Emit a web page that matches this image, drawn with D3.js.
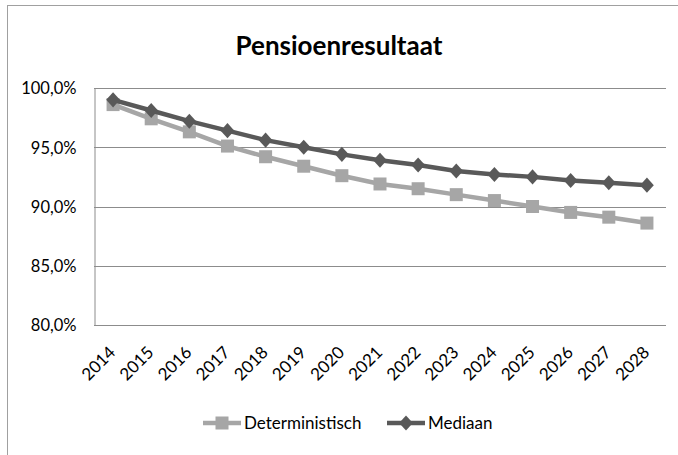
<!DOCTYPE html>
<html>
<head>
<meta charset="utf-8">
<script src="https://cdn.jsdelivr.net/npm/d3@7"></script>
<style>
  body { margin: 0; background: #fff; }
  text { font-family: Lato, "Open Sans", sans-serif; fill: #000; }
</style>
</head>
<body>
<div id="chart"></div>
<script>
var years = ["2014","2015","2016","2017","2018","2019","2020","2021","2022","2023","2024","2025","2026","2027","2028"];
var deterministisch = [98.6, 97.4, 96.3, 95.1, 94.2, 93.4, 92.6, 91.9, 91.5, 91.0, 90.5, 90.0, 89.5, 89.1, 88.6];
var mediaan = [99.0, 98.1, 97.2, 96.4, 95.6, 95.0, 94.4, 93.9, 93.5, 93.0, 92.7, 92.5, 92.2, 92.0, 91.8];
var yTicks = [80, 85, 90, 95, 100];

var w = 678;
var h = 455;
var margin = {top: 88, left: 94, right: 12, bottom: 130};

var svg = d3.select("#chart").append("svg")
    .attr("width", w)
    .attr("height", h);

// outer chart frame (cut off on the right and bottom)
svg.append("rect")
    .attr("x", 7.5)
    .attr("y", 5.5)
    .attr("width", 720)
    .attr("height", 520)
    .attr("fill", "none")
    .attr("stroke", "#a0a0a0");

var x = d3.scalePoint()
    .domain(years)
    .range([margin.left, w - margin.right])
    .padding(0.5);

var y = d3.scaleLinear()
    .domain([80, 100])
    .range([h - margin.bottom, margin.top]);

// title
svg.append("text")
    .attr("x", 339)
    .attr("y", 55)
    .attr("text-anchor", "middle")
    .style("font-size", "26px")
    .style("font-weight", "bold")
    .text("Pensioenresultaat");

// gridlines
svg.append("g")
    .selectAll("line")
    .data(yTicks)
    .enter()
    .append("line")
    .attr("x1", margin.left)
    .attr("x2", w - margin.right)
    .attr("y1", function(d){ return Math.round(y(d)) + 0.5; })
    .attr("y2", function(d){ return Math.round(y(d)) + 0.5; })
    .attr("stroke", "#8c8c8c")
    .attr("stroke-width", 1);

// y axis
var yAxis = d3.axisLeft(y)
    .tickValues(yTicks)
    .tickSize(0)
    .tickPadding(18)
    .tickFormat(function(d){ return d3.format(".1f")(d).replace(".", ",") + "%"; });

var gy = svg.append("g")
    .attr("transform", "translate(" + (margin.left + 0.5) + ",0)")
    .call(yAxis);
gy.select(".domain").attr("stroke", "#8c8c8c");
gy.selectAll("text")
    .style("font-size", "16.5px")
    .attr("dy", "0.35em");

// x axis
var xAxis = d3.axisBottom(x).tickSize(0).tickPadding(0);
var gx = svg.append("g")
    .attr("transform", "translate(0," + (Math.round(y(80)) + 0.5) + ")")
    .call(xAxis);
gx.select(".domain")
    .attr("stroke", "#8c8c8c")
    .attr("d", "M" + margin.left + ",0H" + (w - margin.right));
gx.selectAll("text")
    .style("font-size", "17px")
    .attr("text-anchor", "end")
    .attr("dy", 0)
    .attr("y", 0)
    .attr("transform", "translate(3,28) rotate(-45)");

var line = d3.line()
    .x(function(d, i){ return x(years[i]); })
    .y(function(d){ return y(d); });

// Deterministisch
svg.append("path")
    .datum(deterministisch)
    .attr("d", line)
    .attr("fill", "none")
    .attr("stroke", "#a6a6a6")
    .attr("stroke-width", 4.5);
svg.append("g")
    .selectAll("rect")
    .data(deterministisch)
    .enter()
    .append("rect")
    .attr("x", function(d, i){ return x(years[i]) - 6.5; })
    .attr("y", function(d){ return y(d) - 6.5; })
    .attr("width", 13)
    .attr("height", 13)
    .attr("fill", "#a6a6a6");

// Mediaan
svg.append("path")
    .datum(mediaan)
    .attr("d", line)
    .attr("fill", "none")
    .attr("stroke", "#595959")
    .attr("stroke-width", 4.5);
var diamond = d3.symbol().type(d3.symbolDiamond2).size(120);
svg.append("g")
    .selectAll("path")
    .data(mediaan)
    .enter()
    .append("path")
    .attr("d", diamond)
    .attr("transform", function(d, i){ return "translate(" + x(years[i]) + "," + y(d) + ") scale(1,1.1)"; })
    .attr("fill", "#595959");

// legend
var legend = [
    {name: "Deterministisch", color: "#a6a6a6", x: 203, shape: "square"},
    {name: "Mediaan", color: "#595959", x: 387, shape: "diamond"}
];
var ly = 423;
legend.forEach(function(l){
    var g = svg.append("g");
    g.append("line")
        .attr("x1", l.x).attr("x2", l.x + 38)
        .attr("y1", ly).attr("y2", ly)
        .attr("stroke", l.color)
        .attr("stroke-width", 4.5);
    if (l.shape === "square") {
        g.append("rect")
            .attr("x", l.x + 19 - 6.5).attr("y", ly - 6.5)
            .attr("width", 13).attr("height", 13)
            .attr("fill", l.color);
    } else {
        g.append("path")
            .attr("d", diamond)
            .attr("transform", "translate(" + (l.x + 19) + "," + ly + ") scale(1,1.1)")
            .attr("fill", l.color);
    }
    g.append("text")
        .attr("x", l.x + 41)
        .attr("y", ly)
        .attr("dy", "0.35em")
        .style("font-size", "17px")
        .text(l.name);
});
</script>
</body>
</html>
